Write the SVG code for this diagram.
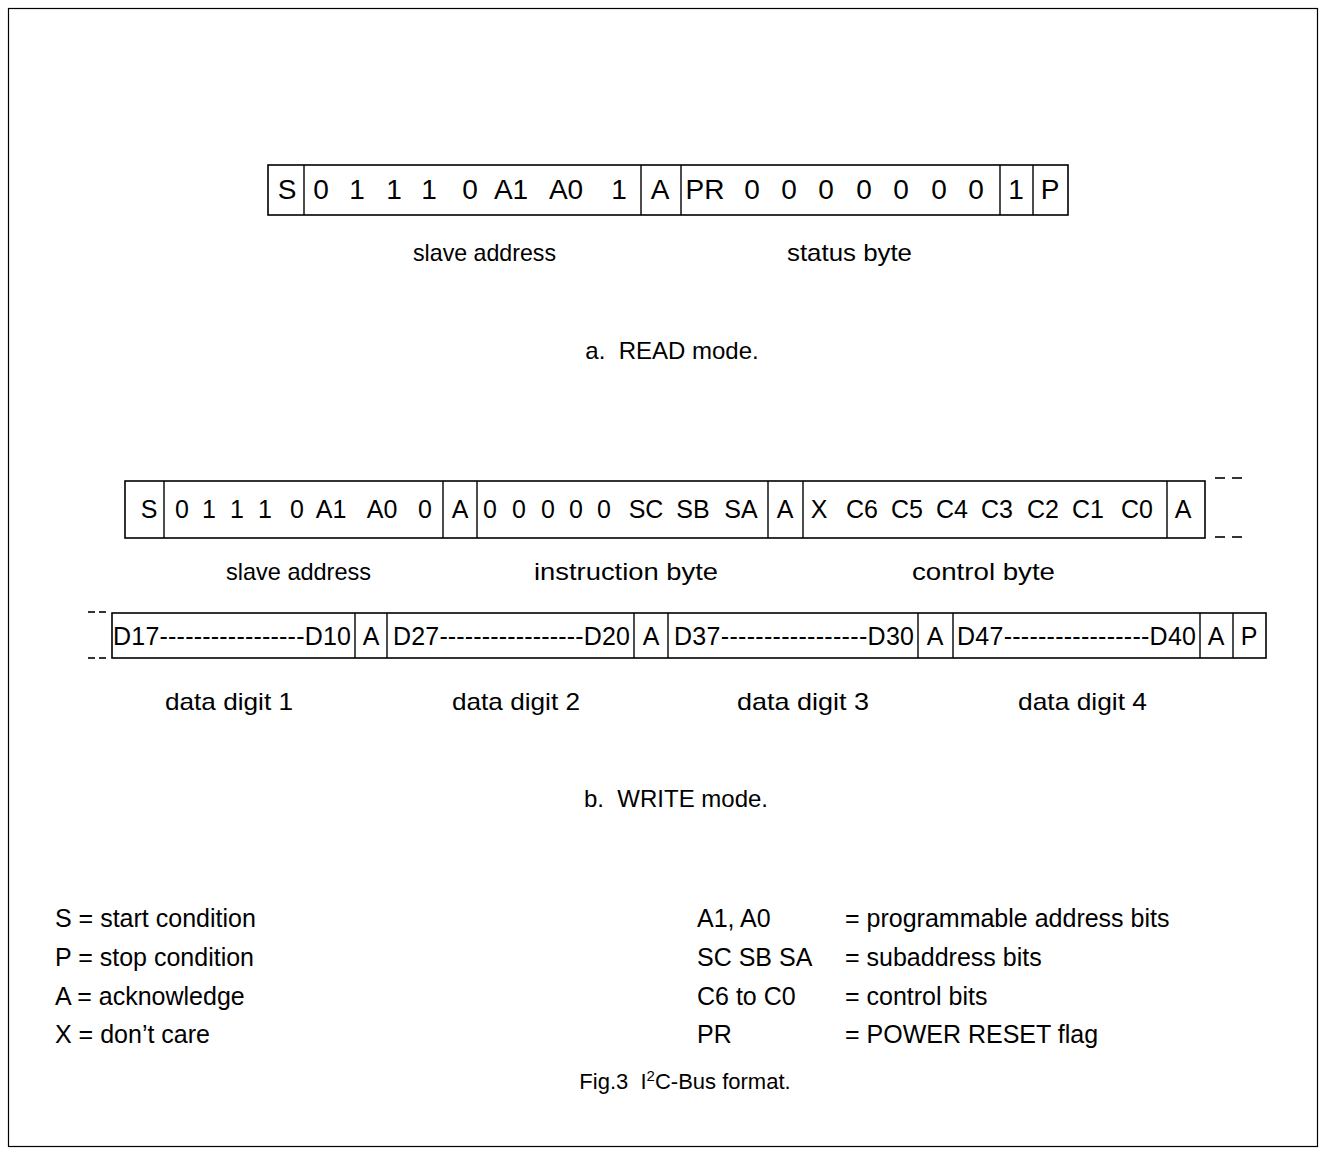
<svg xmlns="http://www.w3.org/2000/svg" width="1326" height="1157" viewBox="0 0 1326 1157">
<style>
.bx{fill:#fff;stroke:#000;stroke-width:1.6}
.dv{stroke:#000;stroke-width:1.4}
.dash{stroke:#000;stroke-width:1.6}
text{font-family:"Liberation Sans",Arial,sans-serif;fill:#000}
.r{font-size:28px;text-anchor:middle}
.w{font-size:25px;text-anchor:middle}
.d{font-size:25px}
.lab{font-size:24px;text-anchor:start}
.cap{font-size:24px;text-anchor:middle;white-space:pre}
.leg{font-size:25px}
</style>
<rect x="8.5" y="8.5" width="1309" height="1138" fill="#fff" stroke="#000" stroke-width="1.2"/>

<g id="read-frame">
<rect class="bx" x="268" y="165" width="800" height="50"/>
<line class="dv" x1="304" y1="165" x2="304" y2="215"/>
<line class="dv" x1="641" y1="165" x2="641" y2="215"/>
<line class="dv" x1="681" y1="165" x2="681" y2="215"/>
<line class="dv" x1="1000" y1="165" x2="1000" y2="215"/>
<line class="dv" x1="1033" y1="165" x2="1033" y2="215"/>
<g class="r">
<text x="287" y="199">S</text>
<text x="321" y="199">0</text>
<text x="357" y="199">1</text>
<text x="394" y="199">1</text>
<text x="429" y="199">1</text>
<text x="470" y="199">0</text>
<text x="511" y="199">A1</text>
<text x="566" y="199">A0</text>
<text x="619" y="199">1</text>
<text x="660" y="199">A</text>
<text x="705" y="199">PR</text>
<text x="752" y="199">0</text>
<text x="789" y="199">0</text>
<text x="826" y="199">0</text>
<text x="864" y="199">0</text>
<text x="901" y="199">0</text>
<text x="939" y="199">0</text>
<text x="976" y="199">0</text>
<text x="1016" y="199">1</text>
<text x="1050" y="199">P</text>
</g>
<text class="lab" x="413" y="261" textLength="143" lengthAdjust="spacingAndGlyphs">slave address</text>
<text class="lab" x="787" y="261" textLength="125" lengthAdjust="spacingAndGlyphs">status byte</text>
</g>
<text class="cap" x="672" y="359" xml:space="preserve">a.  READ mode.</text>

<g id="write-frame-1">
<rect class="bx" x="125" y="481" width="1080" height="57"/>
<line class="dv" x1="164" y1="481" x2="164" y2="538"/>
<line class="dv" x1="443" y1="481" x2="443" y2="538"/>
<line class="dv" x1="477" y1="481" x2="477" y2="538"/>
<line class="dv" x1="768" y1="481" x2="768" y2="538"/>
<line class="dv" x1="803" y1="481" x2="803" y2="538"/>
<line class="dv" x1="1167" y1="481" x2="1167" y2="538"/>
<g class="w">
<text x="149" y="518">S</text>
<text x="182" y="518">0</text>
<text x="209" y="518">1</text>
<text x="237" y="518">1</text>
<text x="265" y="518">1</text>
<text x="297" y="518">0</text>
<text x="331" y="518">A1</text>
<text x="382" y="518">A0</text>
<text x="425" y="518">0</text>
<text x="460" y="518">A</text>
<text x="490" y="518">0</text>
<text x="519" y="518">0</text>
<text x="548" y="518">0</text>
<text x="576" y="518">0</text>
<text x="604" y="518">0</text>
<text x="646" y="518">SC</text>
<text x="693" y="518">SB</text>
<text x="741" y="518">SA</text>
<text x="785" y="518">A</text>
<text x="819" y="518">X</text>
<text x="862" y="518">C6</text>
<text x="907" y="518">C5</text>
<text x="952" y="518">C4</text>
<text x="997" y="518">C3</text>
<text x="1043" y="518">C2</text>
<text x="1088" y="518">C1</text>
<text x="1137" y="518">C0</text>
<text x="1183" y="518">A</text>
</g>
<text class="lab" x="226" y="580" textLength="145" lengthAdjust="spacingAndGlyphs">slave address</text>
<text class="lab" x="534" y="580" textLength="184" lengthAdjust="spacingAndGlyphs">instruction byte</text>
<text class="lab" x="912" y="580" textLength="143" lengthAdjust="spacingAndGlyphs">control byte</text>
</g>

<g id="write-frame-2">
<rect class="bx" x="112" y="613" width="1154" height="45"/>
<line class="dv" x1="355" y1="613" x2="355" y2="658"/>
<line class="dv" x1="387" y1="613" x2="387" y2="658"/>
<line class="dv" x1="634" y1="613" x2="634" y2="658"/>
<line class="dv" x1="668" y1="613" x2="668" y2="658"/>
<line class="dv" x1="918" y1="613" x2="918" y2="658"/>
<line class="dv" x1="953" y1="613" x2="953" y2="658"/>
<line class="dv" x1="1200" y1="613" x2="1200" y2="658"/>
<line class="dv" x1="1233" y1="613" x2="1233" y2="658"/>
<g class="d">
<text x="113" y="645" textLength="238" lengthAdjust="spacing">D17-----------------D10</text>
<text x="393" y="645" textLength="237" lengthAdjust="spacing">D27-----------------D20</text>
<text x="674" y="645" textLength="240" lengthAdjust="spacing">D37-----------------D30</text>
<text x="957" y="645" textLength="239" lengthAdjust="spacing">D47-----------------D40</text>
</g>
<g class="w">
<text x="371" y="645">A</text>
<text x="651" y="645">A</text>
<text x="935" y="645">A</text>
<text x="1216" y="645">A</text>
<text x="1249" y="645">P</text>
</g>
<text class="lab" x="165" y="710" textLength="128" lengthAdjust="spacingAndGlyphs">data digit 1</text>
<text class="lab" x="452" y="710" textLength="128" lengthAdjust="spacingAndGlyphs">data digit 2</text>
<text class="lab" x="737" y="710" textLength="132" lengthAdjust="spacingAndGlyphs">data digit 3</text>
<text class="lab" x="1018" y="710" textLength="129" lengthAdjust="spacingAndGlyphs">data digit 4</text>
</g>

<g id="connectors">
<line class="dash" x1="1215" y1="478" x2="1225" y2="478"/>
<line class="dash" x1="1232" y1="478" x2="1242" y2="478"/>
<line class="dash" x1="1215" y1="537" x2="1225" y2="537"/>
<line class="dash" x1="1232" y1="537" x2="1242" y2="537"/>
<line class="dash" x1="88" y1="612" x2="95" y2="612"/>
<line class="dash" x1="99" y1="612" x2="106" y2="612"/>
<line class="dash" x1="88" y1="658" x2="95" y2="658"/>
<line class="dash" x1="99" y1="658" x2="106" y2="658"/>
</g>

<text class="cap" x="676" y="807" xml:space="preserve">b.  WRITE mode.</text>

<g id="legend" class="leg">
<text x="55" y="927">S = start condition</text>
<text x="55" y="966">P = stop condition</text>
<text x="55" y="1005">A = acknowledge</text>
<text x="55" y="1043">X = don’t care</text>
<text x="697" y="927">A1, A0</text>
<text x="697" y="966">SC SB SA</text>
<text x="697" y="1005">C6 to C0</text>
<text x="697" y="1043">PR</text>
<text x="845" y="927">= programmable address bits</text>
<text x="845" y="966">= subaddress bits</text>
<text x="845" y="1005">= control bits</text>
<text x="845" y="1043">= POWER RESET flag</text>
</g>
<text class="cap" x="685" y="1089" style="font-size:22px" xml:space="preserve">Fig.3  I<tspan font-size="15" dy="-8">2</tspan><tspan dy="8">C-Bus format.</tspan></text>
</svg>
